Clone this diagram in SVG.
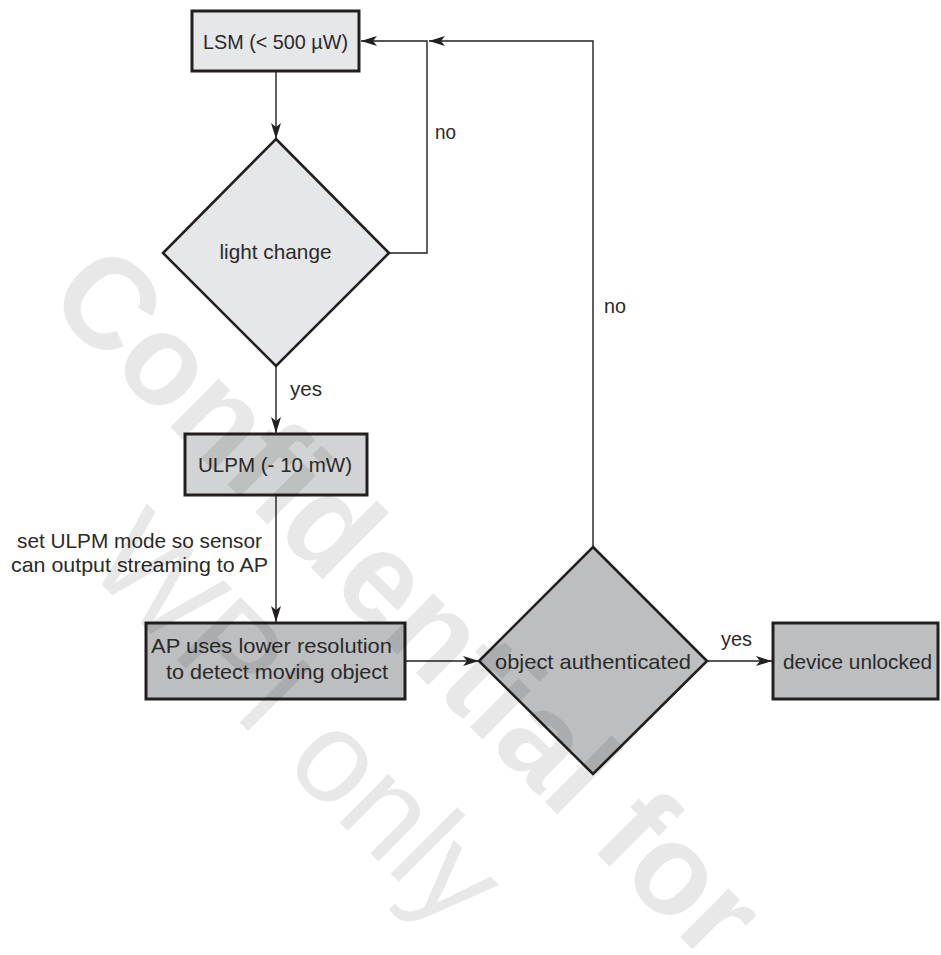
<svg xmlns="http://www.w3.org/2000/svg" width="941" height="955" viewBox="0 0 941 955">
<style>
.box{stroke:#231f20;stroke-width:3}
.dia{stroke:#231f20;stroke-width:2.6}
.l1{fill:#e6e7e8}.l2{fill:#d1d3d4}.l3{fill:#bcbec0}
.t{font-family:"Liberation Sans",Arial,sans-serif;font-size:21px;fill:#2b2a2a}
.m{text-anchor:middle}.e{text-anchor:end}
.c{fill:none;stroke:#231f20;stroke-width:1.4}
.wm{font-family:"Liberation Sans",Arial,sans-serif;font-size:130px;fill:#000;fill-opacity:0.09}
</style>
<defs>
<marker id="ah" markerUnits="userSpaceOnUse" markerWidth="18" markerHeight="12" refX="16" refY="5" orient="auto">
<path d="M0,0 L16,5 L0,10 L4,5 z" fill="#231f20"/>
</marker>
</defs>
<rect width="941" height="955" fill="#fff"/>
<g id="connectors">
<path class="c" d="M276,71 V139" marker-end="url(#ah)"/>
<path class="c" d="M389,253 H427 V41 H361" marker-end="url(#ah)"/>
<path class="c" d="M593,547 V41 H429" marker-end="url(#ah)"/>
<path class="c" d="M276,366 V433" marker-end="url(#ah)"/>
<path class="c" d="M276,495 V622" marker-end="url(#ah)"/>
<path class="c" d="M405,661 H479" marker-end="url(#ah)"/>
<path class="c" d="M707,661 H772" marker-end="url(#ah)"/>
</g>
<g id="lsm">
<rect class="box l1" x="192" y="11" width="167" height="60"/>
<text class="t m" x="275.5" y="49" textLength="145" lengthAdjust="spacingAndGlyphs">LSM (&lt; 500 µW)</text>
</g>
<g id="light-change">
<polygon class="dia l1" points="276,139 389,253 276,366 163,253"/>
<text class="t m" x="275.5" y="259" textLength="112" lengthAdjust="spacingAndGlyphs">light change</text>
</g>
<g id="ulpm">
<rect class="box l2" x="185" y="434" width="182" height="61"/>
<text class="t m" x="275" y="472" textLength="154" lengthAdjust="spacingAndGlyphs">ULPM (- 10 mW)</text>
</g>
<g id="ap">
<rect class="box l3" x="146" y="623" width="259" height="76"/>
<text class="t" x="151" y="653" textLength="241" lengthAdjust="spacingAndGlyphs">AP uses lower resolution</text>
<text class="t" x="166" y="679" textLength="222" lengthAdjust="spacingAndGlyphs">to detect moving object</text>
</g>
<g id="object-authenticated">
<polygon class="dia l3" points="593,547 707,661 593,774 479,661"/>
<text class="t m" x="593" y="669" textLength="196" lengthAdjust="spacingAndGlyphs">object authenticated</text>
</g>
<g id="device-unlocked">
<rect class="box l3" x="773" y="623" width="165" height="76"/>
<text class="t m" x="857.5" y="669" textLength="149" lengthAdjust="spacingAndGlyphs">device unlocked</text>
</g>
<g id="labels">
<text class="t" x="435" y="139" textLength="21" lengthAdjust="spacingAndGlyphs">no</text>
<text class="t" x="604" y="313" textLength="22" lengthAdjust="spacingAndGlyphs">no</text>
<text class="t" x="290" y="396" textLength="32" lengthAdjust="spacingAndGlyphs">yes</text>
<text class="t" x="721" y="646" textLength="31" lengthAdjust="spacingAndGlyphs">yes</text>
<text class="t e" x="262" y="548" textLength="245" lengthAdjust="spacingAndGlyphs">set ULPM mode so sensor</text>
<text class="t e" x="268" y="572" textLength="257" lengthAdjust="spacingAndGlyphs">can output streaming to AP</text>
</g>
<g id="watermark">
<text class="wm" font-weight="bold" x="44" y="301" transform="rotate(45 44 301)" textLength="940" lengthAdjust="spacingAndGlyphs">Confidential for</text>
<text class="wm" x="83" y="566" transform="rotate(45 83 566)">WPI only</text>
</g>
</svg>
